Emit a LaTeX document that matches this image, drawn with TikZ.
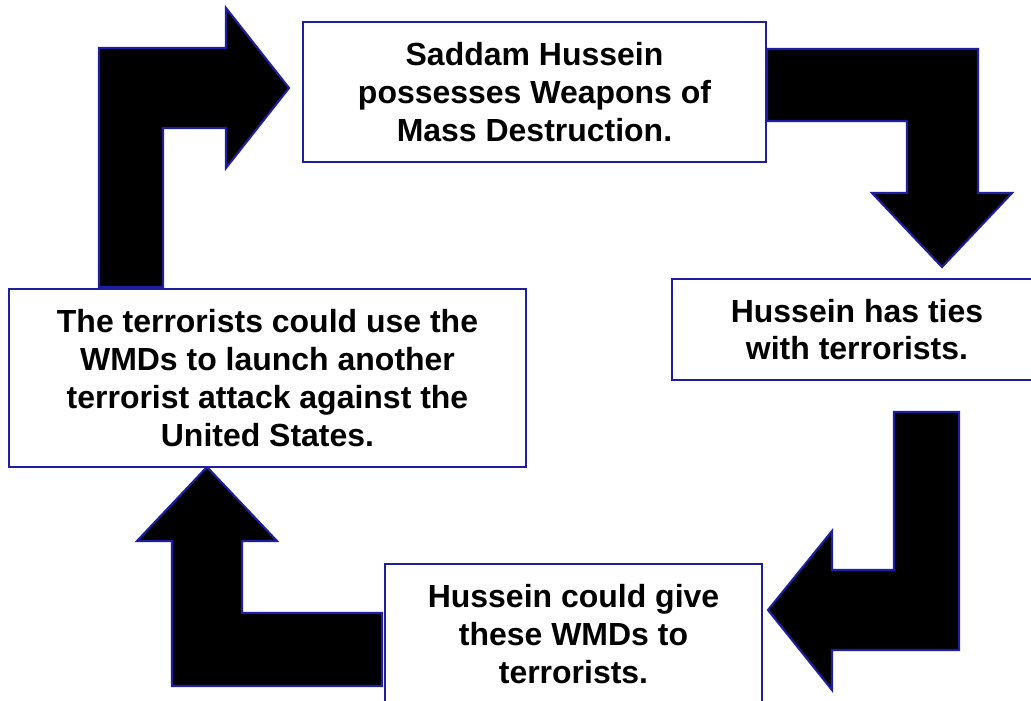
\documentclass[tikz,border=0pt]{standalone}
\usepackage{fontspec}
\setmainfont{Liberation Sans}
\usetikzlibrary{backgrounds}
\definecolor{navy}{RGB}{30,30,160}

\begin{document}
\begin{tikzpicture}[x=0.02cm,y=-0.02cm]
	\useasboundingbox (0,0) rectangle (1031,700);
	\clip (0,0) rectangle (1031,700);
	\begin{scope}[every node/.style={rectangle,draw=navy,line width=1.2pt,fill=white,align=center,inner sep=0pt,
	              font=\fontsize{18.2}{21.5}\selectfont\bfseries}]
		\node[minimum width=9.26cm,minimum height=2.8cm] (1) at (534.5,92) {Saddam Hussein\\possesses Weapons of\\Mass Destruction.};
		\node[minimum width=7.4cm,minimum height=2.02cm] (2) at (857,329.5) {Hussein has ties\\with terrorists.};
		\node[minimum width=7.54cm,minimum height=2.8cm] (3) at (573.5,634) {Hussein could give\\these WMDs to\\terrorists.};
		\node[minimum width=10.34cm,minimum height=3.56cm] (4) at (267.5,378) {The terrorists could use the\\WMDs to launch another\\terrorist attack against the\\United States.};
	\end{scope}

	\begin{scope}[on background layer,
	              every path/.style={fill=black,draw=navy,line width=1.2pt,line join=miter}]
		% 4 -> 1
		\path (99,287) -- (99,48) -- (226,48) -- (226,8) -- (289,88) -- (226,168) -- (226,128) -- (163,128) -- (163,287) -- cycle;
		% 1 -> 2
		\path (767,49) -- (978,49) -- (978,193) -- (1012,193) -- (942,267) -- (872,193) -- (907,193) -- (907,121) -- (767,121) -- cycle;
		% 2 -> 3
		\path (894,412) -- (959,412) -- (959,650) -- (832,650) -- (832,690) -- (768,610) -- (832,531) -- (832,570) -- (894,570) -- cycle;
		% 3 -> 4
		\path (382,613) -- (382,686) -- (172,686) -- (172,541) -- (137,541) -- (207,467) -- (277,541) -- (242,541) -- (242,613) -- cycle;
	\end{scope}
\end{tikzpicture}
\end{document}
